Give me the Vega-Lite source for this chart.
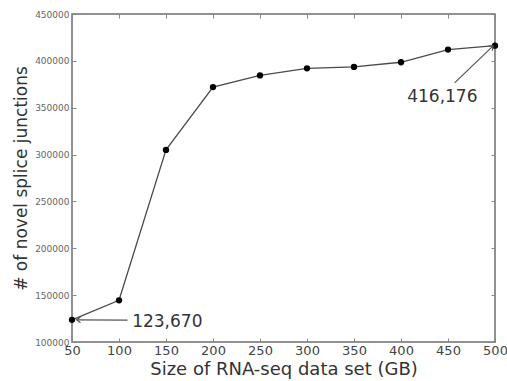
{
  "$schema": "https://vega.github.io/schema/vega-lite/v6.json",
  "width": 423,
  "height": 328,
  "autosize": {"type": "none"},
  "padding": {"left": 72, "top": 14, "right": 12, "bottom": 39},
  "background": "white",
  "config": {
    "font": "DejaVu Sans",
    "view": {"stroke": "#6e6e6e", "strokeWidth": 1.5},
    "axis": {"grid": false, "domain": false, "tickColor": "#888", "labelFont": "DejaVu Sans", "titleFont": "DejaVu Sans", "titleFontWeight": "normal", "titleColor": "#333"}
  },
  "datasets": {
    "series": [
      {"size": 50, "junctions": 123670},
      {"size": 100, "junctions": 144500},
      {"size": 150, "junctions": 305000},
      {"size": 200, "junctions": 372000},
      {"size": 250, "junctions": 384500},
      {"size": 300, "junctions": 392000},
      {"size": 350, "junctions": 393500},
      {"size": 400, "junctions": 398500},
      {"size": 450, "junctions": 412000},
      {"size": 500, "junctions": 416176}
    ],
    "notes": [
      {"label": "123,670", "tx": 114, "ty": 121500, "ax": 109, "ay": 123300, "px": 55, "py": 123670, "which": "low"},
      {"label": "416,176", "tx": 444, "ty": 361500, "ax": 457, "ay": 376500, "px": 498, "py": 416000, "which": "high"}
    ]
  },
  "layer": [
    {
      "data": {"name": "series"},
      "mark": {"type": "line", "color": "#4a4a4a", "strokeWidth": 1.3},
      "encoding": {
        "x": {"field": "size", "type": "quantitative", "scale": {"domain": [50, 500], "nice": false, "zero": false},
          "axis": {"title": "Size of RNA-seq data set (GB)", "values": [50,100,150,200,250,300,350,400,450,500], "tickSize": -4, "labelFontSize": 13, "labelColor": "#444", "labelPadding": 6, "titleFontSize": 18, "titlePadding": 3, "labelFlush": false}},
        "y": {"field": "junctions", "type": "quantitative", "scale": {"domain": [100000, 450000], "nice": false, "zero": false},
          "axis": {"title": "# of novel splice junctions", "values": [100000,150000,200000,250000,300000,350000,400000,450000], "format": "d", "tickSize": -4, "labelFontSize": 9, "labelColor": "#666", "labelPadding": 7, "titleFontSize": 17, "titlePadding": 4, "labelFlush": false}}
      }
    },
    {
      "data": {"name": "series"},
      "mark": {"type": "point", "filled": true, "color": "black", "size": 40, "opacity": 1},
      "encoding": {
        "x": {"field": "size", "type": "quantitative", "axis": null},
        "y": {"field": "junctions", "type": "quantitative", "axis": null}
      }
    },
    {
      "data": {"name": "notes"},
      "mark": {"type": "rule", "color": "#555", "strokeWidth": 1.2},
      "encoding": {
        "x": {"field": "ax", "type": "quantitative", "axis": null},
        "y": {"field": "ay", "type": "quantitative", "axis": null},
        "x2": {"field": "px"},
        "y2": {"field": "py"}
      }
    },
    {
      "data": {"name": "notes"},
      "transform": [{"filter": "datum.which === 'low'"}],
      "mark": {"type": "point", "shape": "M 0.8 -0.6 L 0 0 L 0.8 0.6", "filled": false, "stroke": "#555", "strokeWidth": 1.2, "size": 90, "opacity": 1},
      "encoding": {
        "x": {"field": "px", "type": "quantitative", "axis": null},
        "y": {"field": "py", "type": "quantitative", "axis": null}
      }
    },
    {
      "data": {"name": "notes"},
      "transform": [{"filter": "datum.which === 'high'"}],
      "mark": {"type": "point", "shape": "M -0.6 0.8 L 0 0 L 0.6 0.8", "angle": 46, "filled": false, "stroke": "#555", "strokeWidth": 1.2, "size": 90, "opacity": 1},
      "encoding": {
        "x": {"field": "px", "type": "quantitative", "axis": null},
        "y": {"field": "py", "type": "quantitative", "axis": null}
      }
    },
    {
      "data": {"name": "notes"},
      "transform": [{"filter": "datum.which === 'low'"}],
      "mark": {"type": "text", "align": "left", "baseline": "middle", "fontSize": 17, "color": "#333"},
      "encoding": {
        "x": {"field": "tx", "type": "quantitative", "axis": null},
        "y": {"field": "ty", "type": "quantitative", "axis": null},
        "text": {"field": "label"}
      }
    },
    {
      "data": {"name": "notes"},
      "transform": [{"filter": "datum.which === 'high'"}],
      "mark": {"type": "text", "align": "center", "baseline": "middle", "fontSize": 17, "color": "#333"},
      "encoding": {
        "x": {"field": "tx", "type": "quantitative", "axis": null},
        "y": {"field": "ty", "type": "quantitative", "axis": null},
        "text": {"field": "label"}
      }
    },
    {
      "data": {"name": "series"},
      "mark": {"type": "point", "opacity": 0},
      "encoding": {
        "x": {"field": "size", "type": "quantitative", "axis": {"orient": "top", "title": null, "labels": false, "values": [50,100,150,200,250,300,350,400,450,500], "tickSize": -4}},
        "y": {"field": "junctions", "type": "quantitative", "axis": {"orient": "right", "title": null, "labels": false, "values": [100000,150000,200000,250000,300000,350000,400000,450000], "tickSize": -4}}
      }
    }
  ],
  "resolve": {"axis": {"x": "independent", "y": "independent"}}
}
